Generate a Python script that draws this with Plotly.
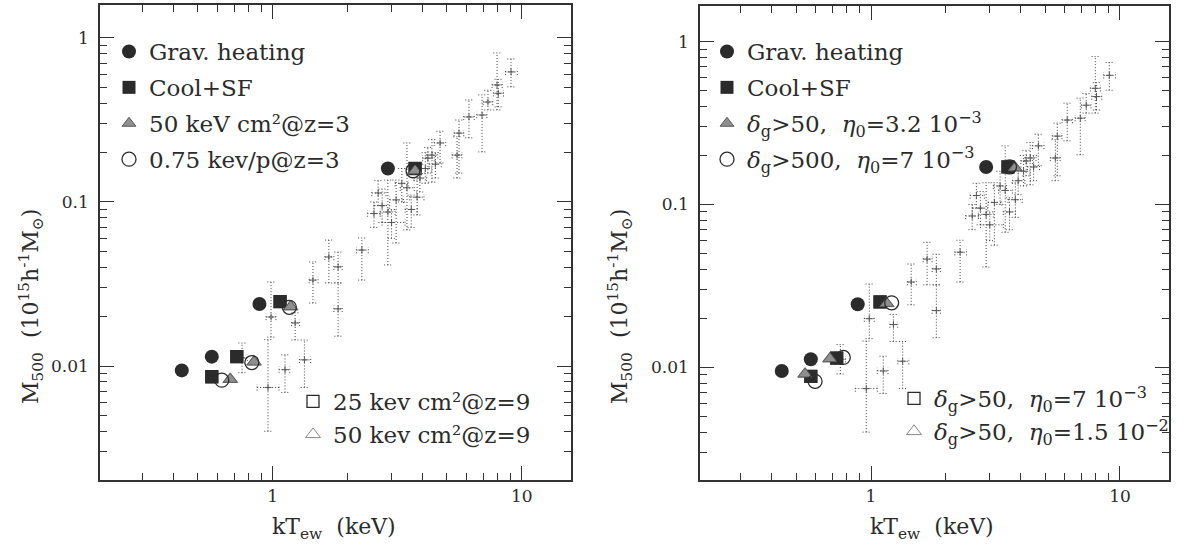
import plotly.graph_objects as go

# ---------------- observational clusters (same in both panels) ----------------
kt_obs    = [0.957, 0.984, 0.753, 1.12, 1.34, 1.23, 1.45, 1.68, 1.83, 1.83, 2.28,
             2.65, 2.90, 3.13, 3.46, 3.80, 2.75, 3.30, 3.00, 4.36, 4.70, 4.50,
             4.10, 5.60, 5.50, 6.14, 6.93, 7.32, 7.96, 8.05, 9.06, 3.90, 4.20,
             3.60, 2.55]
kt_obs_lo = [0.865, 0.94, 0.72, 1.06, 1.28, 1.19, 1.40, 1.62, 1.76, 1.76, 2.17,
             2.50, 2.70, 2.95, 3.25, 3.55, 2.55, 3.10, 2.75, 4.15, 4.45, 4.25,
             3.90, 5.35, 5.25, 5.85, 6.60, 7.00, 7.60, 7.70, 8.60, 3.70, 4.00,
             3.40, 2.40]
kt_obs_hi = [1.06, 1.03, 0.79, 1.17, 1.42, 1.28, 1.52, 1.76, 1.90, 1.90, 2.42,
             2.85, 3.10, 3.35, 3.70, 4.05, 2.95, 3.50, 3.40, 4.60, 4.95, 4.75,
             4.35, 5.85, 5.75, 6.45, 7.25, 7.65, 8.35, 8.45, 9.60, 4.15, 4.45,
             3.80, 2.70]
m_obs     = [0.0074, 0.0199, 0.0112, 0.0095, 0.0109, 0.0183, 0.0334, 0.0462, 0.0402,
             0.0223, 0.0509, 0.1135, 0.0869, 0.103, 0.122, 0.107, 0.095, 0.130, 0.075,
             0.193, 0.229, 0.170, 0.160, 0.263, 0.193, 0.330, 0.339, 0.407, 0.517,
             0.460, 0.621, 0.140, 0.185, 0.090, 0.085]
m_obs_lo  = [0.0040, 0.0150, 0.0091, 0.0069, 0.0074, 0.0144, 0.0242, 0.0321, 0.0321,
             0.0152, 0.0334, 0.095, 0.0413, 0.0562, 0.0675, 0.0833, 0.075, 0.100, 0.060,
             0.132, 0.173, 0.140, 0.130, 0.150, 0.140, 0.246, 0.202, 0.364, 0.364,
             0.380, 0.503, 0.115, 0.150, 0.070, 0.070]
m_obs_hi  = [0.0145, 0.0325, 0.0138, 0.0117, 0.0144, 0.0211, 0.0431, 0.0586, 0.0495,
             0.0321, 0.0603, 0.135, 0.136, 0.136, 0.229, 0.136, 0.120, 0.160, 0.090,
             0.240, 0.270, 0.200, 0.200, 0.316, 0.250, 0.419, 0.450, 0.480, 0.810,
             0.560, 0.745, 0.170, 0.215, 0.110, 0.100]

# ---------------- left panel simulations ----------------
grav_kt_L = [0.431, 0.569, 0.884, 2.90]
grav_m_L  = [0.0094, 0.0114, 0.0239, 0.160]
cool_kt_L = [0.569, 0.717, 1.07, 3.73]
cool_m_L  = [0.0086, 0.0114, 0.0247, 0.160]
ent3_kt_L = [0.675, 0.841, 1.18, 3.73]
ent3_m_L  = [0.0083, 0.0106, 0.0230, 0.155]
pre3_kt_L = [0.624, 0.824, 1.166, 3.66]
pre3_m_L  = [0.0082, 0.0105, 0.0228, 0.155]
e25_kt_L  = [0.569, 0.717, 1.07, 3.73]
e25_m_L   = [0.0086, 0.0114, 0.0247, 0.160]
e50_kt_L  = [0.675, 0.841, 1.18, 3.73]
e50_m_L   = [0.0083, 0.0106, 0.0230, 0.155]

# ---------------- right panel simulations ----------------
grav_kt_R = [0.438, 0.573, 0.884, 2.90]
grav_m_R  = [0.0095, 0.0112, 0.0244, 0.170]
cool_kt_R = [0.573, 0.728, 1.087, 3.55]
cool_m_R  = [0.0088, 0.0114, 0.0252, 0.170]
d50a_kt_R = [0.543, 0.684, 1.156, 3.79]
d50a_m_R  = [0.0091, 0.0113, 0.0247, 0.168]
d500_kt_R = [0.596, 0.774, 1.21, 3.60]
d500_m_R  = [0.0082, 0.0115, 0.0249, 0.170]
d50b_kt_R = [0.573, 0.728, 1.087, 3.55]
d50b_m_R  = [0.0088, 0.0114, 0.0252, 0.170]
d50c_kt_R = [0.543, 0.684, 1.156, 3.79]
d50c_m_R  = [0.0091, 0.0113, 0.0247, 0.168]

labels_L = ["Grav. heating", "Cool+SF", "50 keV cm²@z=3", "0.75 kev/p@z=3",
            "25 kev cm²@z=9", "50 kev cm²@z=9"]
labels_R = ["Grav. heating", "Cool+SF",
            "<i>δ</i><sub>g</sub>&gt;50,  <i>η</i><sub>0</sub>=3.2 10<sup>−3</sup>",
            "<i>δ</i><sub>g</sub>&gt;500,  <i>η</i><sub>0</sub>=7 10<sup>−3</sup>",
            "<i>δ</i><sub>g</sub>&gt;50,  <i>η</i><sub>0</sub>=7 10<sup>−3</sup>",
            "<i>δ</i><sub>g</sub>&gt;50,  <i>η</i><sub>0</sub>=1.5 10<sup>−2</sup>"]

W, H = 1186, 553
FONT = "DejaVu Serif"
INK = "#2b2b2b"


def px(x):
    return x / W


def py(y):
    return 1 - y / H


fig = go.Figure()


def add_obs(xa, ya):
    xs, ys = [], []
    cx, cy = 1.035, 1.045
    for x, xl, xh, y, yl, yh in zip(kt_obs, kt_obs_lo, kt_obs_hi, m_obs, m_obs_lo, m_obs_hi):
        xs += [x, x, None]; ys += [yl, yh, None]
        xs += [x / cx, x * cx, None]; ys += [yl, yl, None]
        xs += [x / cx, x * cx, None]; ys += [yh, yh, None]
        xs += [xl, xh, None]; ys += [y, y, None]
        xs += [xl, xl, None]; ys += [y / cy, y * cy, None]
        xs += [xh, xh, None]; ys += [y / cy, y * cy, None]
    fig.add_trace(go.Scatter(x=xs, y=ys, mode="lines", xaxis=xa, yaxis=ya,
                             line=dict(color="#444444", width=1, dash="1px,2px"),
                             showlegend=False, hoverinfo="skip"))
    fig.add_trace(go.Scatter(x=kt_obs, y=m_obs, mode="markers", xaxis=xa, yaxis=ya,
                             marker=dict(symbol="cross-thin", size=5,
                                         line=dict(color="#555555", width=1)),
                             showlegend=False, hoverinfo="skip"))


add_obs("x", "y")
add_obs("x2", "y2")

styles = [
    dict(symbol="circle", size=14, color=INK, line=dict(width=0)),
    dict(symbol="square", size=13, color=INK, line=dict(width=0)),
    dict(symbol="triangle-up", size=12, color="#8f8f8f", line=dict(color="#5a5a5a", width=1)),
    dict(symbol="circle-open", size=14, color=INK, line=dict(width=1.3)),
    dict(symbol="square-open", size=12, color=INK, line=dict(width=1.3)),
    dict(symbol="triangle-up-open", size=13, color="#888888", line=dict(width=1)),
]

series_L = [(grav_kt_L, grav_m_L), (cool_kt_L, cool_m_L), (ent3_kt_L, ent3_m_L),
            (pre3_kt_L, pre3_m_L), (e25_kt_L, e25_m_L), (e50_kt_L, e50_m_L)]
series_R = [(grav_kt_R, grav_m_R), (cool_kt_R, cool_m_R), (d50a_kt_R, d50a_m_R),
            (d500_kt_R, d500_m_R), (d50b_kt_R, d50b_m_R), (d50c_kt_R, d50c_m_R)]

draw_order = [4, 5, 0, 1, 2, 3]
for panel, series, labels, xa, ya, lg_top, lg_bot in [
        ("L", series_L, labels_L, "x", "y", "legend", "legend2"),
        ("R", series_R, labels_R, "x2", "y2", "legend3", "legend4")]:
    for i in draw_order:
        kx, km = series[i]
        fig.add_trace(go.Scatter(
            x=kx, y=km, mode="markers", xaxis=xa, yaxis=ya, name=labels[i],
            marker=styles[i], legend=lg_top if i < 4 else lg_bot,
            legendgroup=panel + str(i), legendrank=i, hoverinfo="skip"))

x_minor = [0.3, 0.4, 0.5, 0.6, 0.7, 0.8, 0.9, 2, 3, 4, 5, 6, 7, 8, 9]
y_minor = [0.003, 0.004, 0.005, 0.006, 0.007, 0.008, 0.009,
           0.02, 0.03, 0.04, 0.05, 0.06, 0.07, 0.08, 0.09,
           0.2, 0.3, 0.4, 0.5, 0.6, 0.7, 0.8, 0.9]


def axis(domain, rng, tickvals, ticktext, minor_vals, anchor, standoff):
    return dict(domain=domain, type="log", range=rng, anchor=anchor,
                showline=True, linecolor="#333333", linewidth=1.6, mirror="ticks",
                ticks="inside", ticklen=14, tickwidth=1.3, tickcolor="#333333",
                tickmode="array", tickvals=tickvals, ticktext=ticktext,
                ticklabelstandoff=standoff,
                showgrid=False, zeroline=False,
                tickfont=dict(family=FONT, size=17, color=INK),
                minor=dict(ticks="inside", ticklen=7, tickwidth=1.1, tickcolor="#333333",
                           tickmode="array", tickvals=minor_vals, showgrid=False))


fig.update_layout(
    width=W, height=H, margin=dict(l=0, r=0, t=0, b=0),
    paper_bgcolor="white", plot_bgcolor="white",
    font=dict(family=FONT, color=INK),
    xaxis=axis([px(100), px(571)], [-0.694, 1.198], [1, 10], ["1", "10"], x_minor, "y", 0),
    yaxis=axis([py(480), py(5)], [-2.695, 0.201], [0.01, 0.1, 1], ["0.01", "0.1", "1"], y_minor, "x", 6),
    xaxis2=axis([px(700), px(1169)], [-0.687, 1.197], [1, 10], ["1", "10"], x_minor, "y2", 0),
    yaxis2=axis([py(480), py(6)], [-2.692, 0.219], [0.01, 0.1, 1], ["0.01", "0.1", "1"], y_minor, "x2", 6),
    showlegend=True,
)

leg_common = dict(xanchor="left", yanchor="top", bgcolor="rgba(0,0,0,0)",
                  font=dict(family=FONT, size=23, color=INK),
                  itemwidth=30, traceorder="grouped", borderwidth=0)
fig.update_layout(
    legend=dict(x=px(109), y=py(30), tracegroupgap=3, **leg_common),
    legend2=dict(x=px(293), y=py(380), tracegroupgap=0, **leg_common),
    legend3=dict(x=px(707), y=py(30), tracegroupgap=3, **leg_common),
    legend4=dict(x=px(894), y=py(377), tracegroupgap=0, **leg_common),
)

ytitle = "M<sub>500</sub>  (10<sup>15</sup>h<sup>-1</sup>M<sub>⊙</sub>)"
xtitle = "kT<sub>ew</sub>  (keV)"
for x0, y0, txt, ang in [(31, 307, ytitle, -90), (620, 307, ytitle, -90),
                         (334, 528, xtitle, 0), (932, 528, xtitle, 0)]:
    fig.add_annotation(x=px(x0), y=py(y0), xref="paper", yref="paper", text=txt,
                       textangle=ang, showarrow=False, xanchor="center", yanchor="middle",
                       font=dict(family=FONT, size=22, color=INK))

# the page body has a default 8px margin; remove it so the figure fills the window
fig.write_html("out.html", config={"displayModeBar": False},
               post_script="document.body.style.margin='0px';")
